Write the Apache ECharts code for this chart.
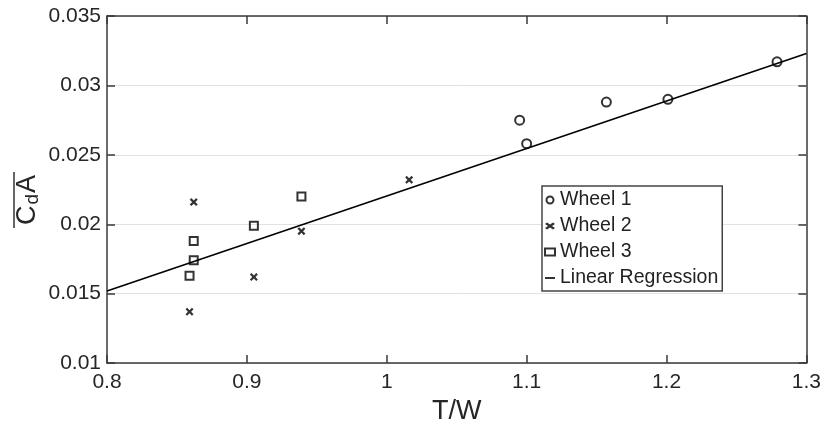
<!DOCTYPE html>
<html>
<head>
<meta charset="utf-8">
<script src="https://cdn.jsdelivr.net/npm/echarts@6/dist/echarts.min.js"></script>
<style>
html,body{margin:0;padding:0;background:#fff;}
#chart{width:824px;height:430px;}
</style>
</head>
<body>
<div id="chart"></div>
<script>
// Data
const wheel1X = [1.095, 1.100, 1.157, 1.201, 1.279];
const wheel1Y = [0.0275, 0.0258, 0.0288, 0.0290, 0.0317];
const wheel2X = [0.859, 0.862, 0.905, 0.939, 1.016];
const wheel2Y = [0.0137, 0.0216, 0.0162, 0.0195, 0.0232];
const wheel3X = [0.859, 0.862, 0.862, 0.905, 0.939];
const wheel3Y = [0.0163, 0.0188, 0.0174, 0.0199, 0.0220];
const regX = [0.8, 1.3];
const regY = [0.0152, 0.0323];
const xTicks = [0.8, 0.9, 1.0, 1.1, 1.2, 1.3];
const yTicks = [0.01, 0.015, 0.02, 0.025, 0.03, 0.035];
const seriesNames = ['Wheel 1', 'Wheel 2', 'Wheel 3', 'Linear Regression'];

const pairs = (xs, ys) => xs.map((x, i) => [x, ys[i]]);
const crossPath = 'path://M0,2L2,0L5,3L8,0L10,2L7,5L10,8L8,10L5,7L2,10L0,8L3,5Z';
const dashIcon = 'path://M0,0L0.01,0L0,0.01ZM0,2.4L10,2.4L10,4.6L0,4.6ZM10,7L9.99,7L10,6.99Z';
const FONT = '"Liberation Sans", Arial, sans-serif';
const axisColor = '#3a3a3a';

const chart = echarts.init(document.getElementById('chart'), null, {renderer: 'canvas'});

const baseX = {
  type: 'value', min: xTicks[0], max: xTicks[xTicks.length - 1], interval: 0.1,
  axisLine: {show: true, onZero: false, lineStyle: {color: axisColor, width: 1.5}},
  axisTick: {show: true, inside: true, length: 8, lineStyle: {color: axisColor, width: 1.5}},
  splitLine: {show: false}
};
const baseY = {
  type: 'value', min: yTicks[0], max: yTicks[yTicks.length - 1], interval: 0.005,
  axisLine: {show: true, onZero: false, lineStyle: {color: axisColor, width: 1.5}},
  axisTick: {show: true, inside: true, length: 8, lineStyle: {color: axisColor, width: 1.5}}
};

chart.setOption({
  animation: false,
  backgroundColor: '#fff',
  textStyle: {fontFamily: FONT},
  grid: {left: 107, right: 16, top: 16, bottom: 58, containLabel: false},
  xAxis: [
    Object.assign({}, baseX, {
      position: 'bottom',
      name: 'T/W', nameLocation: 'middle', nameGap: 34,
      nameTextStyle: {fontSize: 27, color: '#262626', fontFamily: FONT},
      axisLabel: {show: true, margin: 9, fontSize: 21, color: '#262626', fontFamily: FONT,
        formatter: v => String(+v.toFixed(2))}
    }),
    Object.assign({}, baseX, {position: 'top', axisLabel: {show: false}})
  ],
  yAxis: [
    Object.assign({}, baseY, {
      position: 'left',
      axisLabel: {show: true, margin: 6, fontSize: 21, color: '#262626', fontFamily: FONT,
        formatter: v => String(+v.toFixed(3))},
      splitLine: {show: true, lineStyle: {color: '#e2e2e2', width: 1}}
    }),
    Object.assign({}, baseY, {position: 'right', axisLabel: {show: false}, splitLine: {show: false}})
  ],
  legend: {
    show: true, orient: 'vertical', left: 542, top: 186,
    symbolKeepAspect: false,
    data: [
      {name: seriesNames[0]},
      {name: seriesNames[1]},
      {name: seriesNames[2]},
      {name: seriesNames[3], icon: dashIcon, itemStyle: {color: '#333'}}
    ],
    backgroundColor: '#fff',
    borderColor: '#444', borderWidth: 1.5, borderRadius: 0,
    padding: [4, 4, 3, 2],
    itemWidth: 10, itemHeight: 7, itemGap: 6, itemTextGap: 4,
    textStyle: {fontSize: 19.5, color: '#222', fontFamily: FONT, lineHeight: 19.5}
  },
  graphic: [
    {
      type: 'text', z: 10, x: 28, y: 200, rotation: Math.PI / 2,
      style: {
        text: '{c|C}{d|d}{a|A}', align: 'center', verticalAlign: 'middle',
        fill: '#262626', fontFamily: FONT,
        rich: {
          c: {fontSize: 27, fill: '#262626', fontFamily: FONT},
          d: {fontSize: 19, fill: '#262626', fontFamily: FONT, verticalAlign: 'bottom', padding: [9, 1, 0, 1]},
          a: {fontSize: 27, fill: '#262626', fontFamily: FONT}
        }
      }
    },
    {
      type: 'line', z: 10,
      shape: {x1: 14, y1: 172, x2: 14, y2: 228},
      style: {stroke: '#333', lineWidth: 1.5}
    }
  ],
  series: [
    {
      name: seriesNames[3], type: 'line', data: pairs(regX, regY),
      xAxisIndex: 0, yAxisIndex: 0,
      symbol: 'none', lineStyle: {color: '#000', width: 1.6}, itemStyle: {color: '#000'}, z: 2
    },
    {
      name: seriesNames[0], type: 'scatter', data: pairs(wheel1X, wheel1Y),
      symbol: 'circle', symbolSize: 9,
      itemStyle: {color: 'rgba(255,255,255,0)', borderColor: '#000', borderWidth: 2}, z: 3
    },
    {
      name: seriesNames[1], type: 'scatter', data: pairs(wheel2X, wheel2Y),
      symbol: crossPath, symbolSize: 8,
      itemStyle: {color: '#000'}, z: 3
    },
    {
      name: seriesNames[2], type: 'scatter', data: pairs(wheel3X, wheel3Y),
      symbol: 'rect', symbolSize: 8,
      itemStyle: {color: 'rgba(255,255,255,0)', borderColor: '#000', borderWidth: 2}, z: 3
    }
  ]
});
</script>
</body>
</html>
